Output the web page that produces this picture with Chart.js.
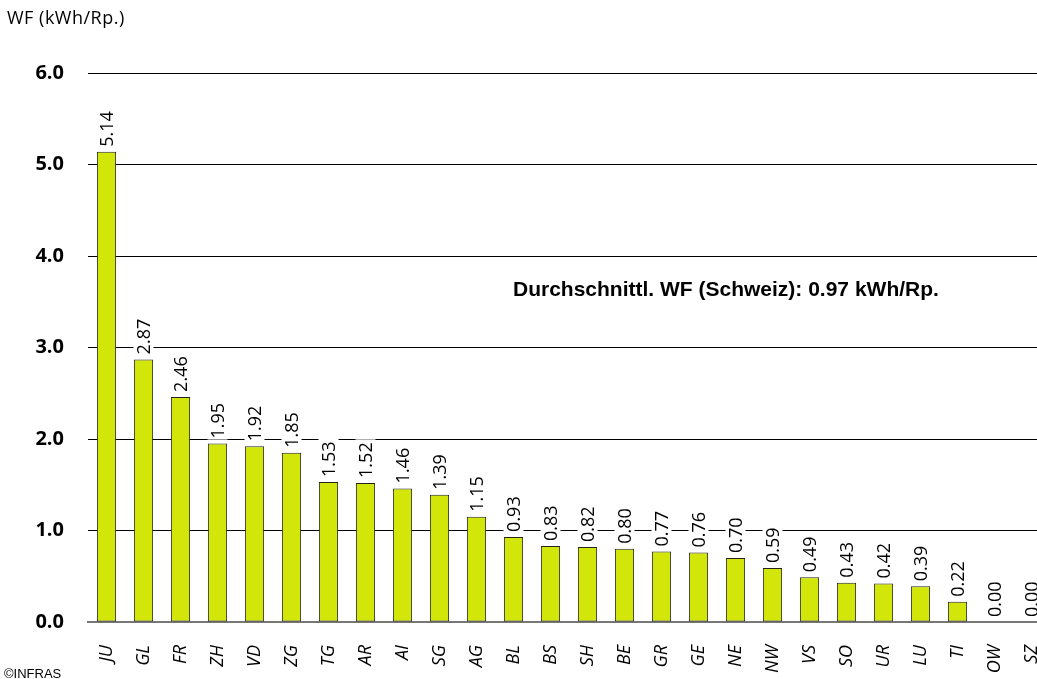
<!DOCTYPE html>
<html>
<head>
<meta charset="utf-8">
<script src="https://cdn.jsdelivr.net/npm/chart.js@4.4.1/dist/chart.umd.min.js"></script>
<style>
  html, body { margin: 0; padding: 0; background: #fff; overflow: hidden; }
  #wrap { width: 1050px; height: 679px; }
</style>
</head>
<body>
<div id="wrap"><canvas id="bar-chart"></canvas></div>
<script>
const kantone = ['JU', 'GL', 'FR', 'ZH', 'VD', 'ZG', 'TG', 'AR', 'AI', 'SG', 'AG', 'BL', 'BS',
                 'SH', 'BE', 'GR', 'GE', 'NE', 'NW', 'VS', 'SO', 'UR', 'LU', 'TI', 'OW', 'SZ'];
const wf = [5.14, 2.87, 2.46, 1.95, 1.92, 1.85, 1.53, 1.52, 1.46, 1.39, 1.15, 0.93, 0.83,
            0.82, 0.80, 0.77, 0.76, 0.70, 0.59, 0.49, 0.43, 0.42, 0.39, 0.22, 0.00, 0.00];
const yTicks = [0, 1, 2, 3, 4, 5, 6];

const sans = "'Open Sans', 'Noto Sans', sans-serif";
const arial = "'Liberation Sans', Arial, sans-serif";

// value labels on top of bars, white box behind so they cut the gridlines
const barLabels = {
    id: 'barLabels',
    afterDatasetsDraw(chart) {
        const c = chart.ctx;
        const meta = chart.getDatasetMeta(0);
        c.save();
        c.font = '18px ' + sans;
        meta.data.forEach((bar, i) => {
            const txt = wf[i].toFixed(2);
            const w = c.measureText(txt).width;
            c.save();
            c.translate(bar.x, bar.y - 5);
            c.rotate(-Math.PI / 2);
            c.fillStyle = '#fff';
            c.fillRect(-1, -10, w + 4, 20);
            c.fillStyle = '#000';
            c.textAlign = 'left';
            c.textBaseline = 'middle';
            c.fillText(txt, 0, 1);
            c.restore();
        });
        c.restore();
    }
};

const extraText = {
    id: 'extraText',
    afterDraw(chart) {
        const c = chart.ctx;
        c.save();
        c.fillStyle = '#000';
        c.textBaseline = 'middle';
        c.font = '18px ' + sans;
        c.letterSpacing = '0.5px';
        c.fillText('WF (kWh/Rp.)', 7, 19);
        c.letterSpacing = '0px';
        c.font = 'bold 21px ' + arial;
        c.fillText('Durchschnittl. WF (Schweiz): 0.97 kWh/Rp.', 513, 290);
        c.font = '13px ' + arial;
        c.fillText('©INFRAS', 4, 674);
        c.restore();
    }
};

new Chart(document.getElementById('bar-chart'), {
    type: 'bar',
    data: {
        labels: kantone,
        datasets: [{
            label: 'WF',
            data: wf,
            backgroundColor: '#d2e60a',
            borderColor: '#222',
            borderWidth: 1,
            borderSkipped: false,
            barPercentage: 0.52,
            categoryPercentage: 1
        }]
    },
    options: {
        responsive: true,
        maintainAspectRatio: false,
        animation: false,
        layout: { padding: { top: 73, right: 0, left: 0, bottom: 0 } },
        plugins: {
            legend: { display: false },
            tooltip: { enabled: false }
        },
        scales: {
            x: {
                grid: { display: false },
                border: { color: '#777', width: 2 },
                ticks: {
                    color: '#000',
                    minRotation: 90,
                    maxRotation: 90,
                    padding: 15,
                    autoSkip: false,
                    font: { family: sans, size: 18, style: 'italic' }
                },
                afterFit(scale) {
                    scale.height = 57;
                    scale.paddingLeft = 0;
                    scale.paddingRight = 0;
                }
            },
            y: {
                min: 0,
                max: 6,
                border: { display: false },
                grid: {
                    drawTicks: false,
                    color: ctx => ctx.tick.value === 0 ? '#777' : '#000',
                    lineWidth: 1
                },
                afterBuildTicks(scale) { scale.ticks = yTicks.map(v => ({ value: v })); },
                ticks: {
                    color: '#000',
                    padding: 24,
                    callback: v => v.toFixed(1),
                    font: { family: sans, size: 20, weight: 'bold' }
                },
                afterFit(scale) {
                    scale.width = 88;
                    scale.paddingTop = 0;
                    scale.paddingBottom = 0;
                }
            }
        }
    },
    plugins: [barLabels, extraText]
});
</script>
</body>
</html>
